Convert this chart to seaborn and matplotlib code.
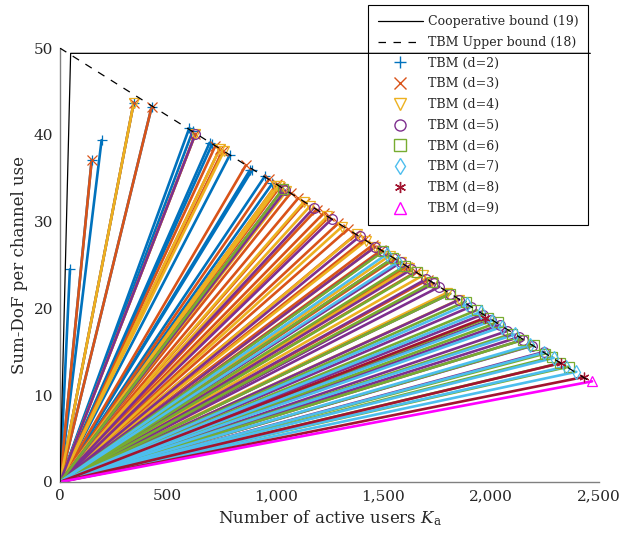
import numpy as np
import pandas as pd
import matplotlib
matplotlib.use("Agg")
import matplotlib.pyplot as plt
from matplotlib.lines import Line2D
from matplotlib.ticker import FuncFormatter
import seaborn as sns

# ---- data ----
coop_ka = [0, 49.4, 2460]
coop_dof = [0, 49.4, 49.4]

ub_ka = [0, 2470]
ub_dof = [50, 11.4]

# end points of each TBM curve (they all start at the origin)
d2_ka = [46, 147, 193, 342, 425, 600, 615, 694, 705, 788, 880, 890, 952, 985]
d2_dof = [24.5, 37.1, 39.4, 43.7, 43.2, 40.8, 40.4, 39.1, 38.9, 37.7, 35.9, 35.9, 35.3, 34.4]

d3_ka = [147, 342, 425, 628, 720, 741, 755, 862, 970, 1005, 1020, 1070, 1105, 1136,
         1190, 1224, 1250, 1290, 1334, 1370, 1415, 1450, 1490, 1552, 1610, 1650, 1705]
d3_dof = [37.1, 43.7, 43.2, 40.1, 38.7, 38.4, 38.2, 36.5, 34.9, 34.3, 34.0, 33.3, 32.7, 32.2,
          31.4, 31.0, 30.6, 29.8, 29.1, 28.5, 28.0, 27.3, 26.7, 25.7, 24.8, 24.2, 23.3]

d4_ka = [342, 628, 741, 760, 1000, 1015, 1050, 1132, 1160, 1240, 1307, 1377, 1420,
         1462, 1530, 1583, 1620, 1682, 1730, 1795, 1850]
d4_dof = [43.7, 40.1, 38.4, 38.1, 34.1, 34.1, 33.5, 32.3, 31.8, 30.6, 29.4, 28.6, 27.8,
          27.1, 26.1, 25.4, 24.7, 23.8, 22.9, 21.8, 21.0]

d5_ka = [628, 1035, 1045, 1178, 1260, 1390, 1462, 1497, 1545, 1580, 1630, 1700, 1736,
         1760, 1810, 1852, 1905, 1960, 1998, 2040, 2075, 2129, 2149, 2190, 2247]
d5_dof = [40.1, 33.8, 33.6, 31.6, 30.3, 28.3, 27.1, 26.6, 25.8, 25.3, 24.5, 23.4, 22.9,
          22.5, 21.7, 21.0, 20.2, 19.3, 18.7, 18.1, 17.4, 16.7, 16.4, 15.7, 15.0]

d6_ka = [1035, 1500, 1545, 1600, 1656, 1725, 1810, 1882, 1933, 1985, 2032, 2098,
         2150, 2198, 2250, 2283, 2320, 2361]
d6_dof = [33.8, 26.6, 25.8, 24.9, 24.2, 23.0, 21.7, 20.8, 19.8, 18.9, 18.4, 17.1,
          16.4, 15.8, 14.8, 14.4, 13.7, 13.3]

d7_ka = [1518, 1570, 1890, 1952, 2005, 2052, 2110, 2180, 2245, 2290, 2345, 2395]
d7_dof = [26.3, 25.4, 20.5, 19.6, 18.6, 17.9, 17.0, 15.8, 14.9, 14.3, 13.3, 12.7]

d8_ka = [1970, 2323, 2430]
d8_dof = [18.9, 13.7, 12.1]

d9_ka = [2468]
d9_dof = [11.6]

dims = [2, 3, 4, 5, 6, 7, 8, 9]
ends_ka = [d2_ka, d3_ka, d4_ka, d5_ka, d6_ka, d7_ka, d8_ka, d9_ka]
ends_dof = [d2_dof, d3_dof, d4_dof, d5_dof, d6_dof, d7_dof, d8_dof, d9_dof]

colors = ['#0072BD', '#D95319', '#EDB120', '#7E2F8E',
          '#77AC30', '#4DBEEE', '#A2142F', '#FF00FF']
markers = ['+', 'x', 'v', 'o', 's', 'd', (6, 2, 0), '^']

# long table: one curve per (d, end point), from the origin to the end point
rows = []
uid = 0
for d, kas, dofs in zip(dims, ends_ka, ends_dof):
    for k, s in zip(kas, dofs):
        rows.append({'Ka': 0, 'DoF': 0, 'd': d, 'id': uid})
        rows.append({'Ka': k, 'DoF': s, 'd': d, 'id': uid})
        uid += 1
df = pd.DataFrame(rows)

# ---- plot ----
sns.set_theme(style='white')
plt.rcParams['font.family'] = ['DejaVu Serif']
plt.rcParams['mathtext.fontset'] = 'dejavuserif'

fig = plt.figure(figsize=(6.21, 5.33), dpi=100)
ax = fig.add_axes([0.0966, 0.0957, 0.8679, 0.814])

sns.lineplot(data=df, x='Ka', y='DoF', hue='d', units='id', estimator=None,
             palette=dict(zip(dims, colors)), linewidth=1.9, legend=False,
             sort=False, ax=ax)

for d, kas, dofs, c, m in zip(dims, ends_ka, ends_dof, colors, markers):
    ax.plot(kas, dofs, linestyle='none', marker=m, color=c, mfc='none',
            ms=7, mew=0.9, zorder=5, clip_on=False)

ax.plot(coop_ka, coop_dof, color='black', lw=0.9, zorder=6)
ax.plot(ub_ka, ub_dof, color='black', lw=0.9, ls=(0, (6, 6)), zorder=6)

ax.set_xlim(0, 2500)
ax.set_ylim(0, 50)
ax.set_xticks([0, 500, 1000, 1500, 2000, 2500])
ax.set_yticks([0, 10, 20, 30, 40, 50])
ax.xaxis.set_major_formatter(FuncFormatter(lambda v, p: f'{int(v):,}'))
for sp in ['top', 'right']:
    ax.spines[sp].set_visible(False)
for sp in ['left', 'bottom']:
    ax.spines[sp].set_color('#808080')
    ax.spines[sp].set_linewidth(1.0)
ax.tick_params(direction='in', length=7, width=1.0, color='#808080',
               labelsize=11, pad=5)

ax.set_xlabel(r'Number of active users $K_\mathrm{a}$', fontsize=12)
ax.set_ylabel('Sum-DoF per channel use', fontsize=12)

handles = [Line2D([], [], color='black', lw=0.9, label='Cooperative bound (19)'),
           Line2D([], [], color='black', lw=0.9, ls=(0, (6, 6)),
                  label='TBM Upper bound (18)')]
for d, c, m in zip(dims, colors, markers):
    handles.append(Line2D([], [], linestyle='none', marker=m, color=c,
                          mfc='none', ms=8, mew=1.0, label=f'TBM (d={d})'))
leg = ax.legend(handles=handles, loc='upper right', bbox_to_anchor=(0.98, 1.099),
                borderaxespad=0, fontsize=9, frameon=True, fancybox=False,
                edgecolor='black', framealpha=1, handlelength=3.6,
                handletextpad=0.4, labelspacing=0.62, borderpad=0.8)
leg.get_frame().set_linewidth(0.8)

fig.savefig('out.png', dpi=100)
